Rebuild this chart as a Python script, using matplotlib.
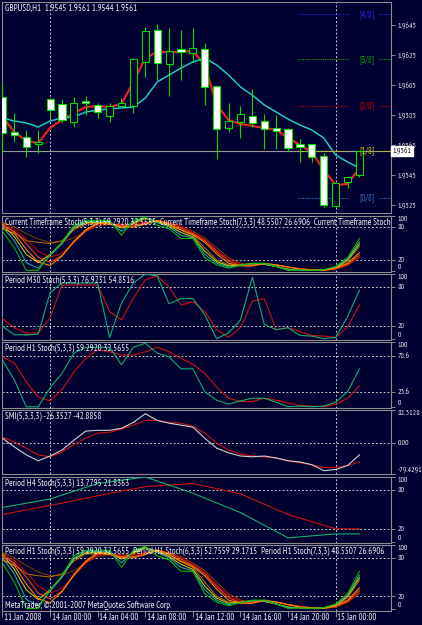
import matplotlib
matplotlib.use('Agg')
import matplotlib.pyplot as plt
from matplotlib.patches import Rectangle
from matplotlib import font_manager
from matplotlib.transforms import blended_transform_factory

W, H = 422, 625
BG = '#000030'
BORDER = '#8c8c8c'
TXT = '#f0f0f0'
GRID = '#c8c8c8'
WICK = '#00e000'

# ---- pick a narrow font (MetaTrader uses a narrow UI font) ----
sys_fonts = font_manager.findSystemFonts()
def _plain(p):
    q = p.lower()
    return not any(k in q for k in ('bold', 'italic', 'oblique', 'light', 'mono'))
narrow = [p for p in sys_fonts if 'narrow' in p.lower() and _plain(p)]
FS, FSN = 5.3, 4.7
if narrow:
    font_manager.fontManager.addfont(narrow[0])
    plt.rcParams['font.family'] = [font_manager.FontProperties(fname=narrow[0]).get_name(), 'DejaVu Sans']
    FS, FSN = 6.4, 5.6
else:
    plt.rcParams['font.family'] = ['DejaVu Sans']

# ---------------- data ----------------
bars = list(range(31))
opens = [1.95968, 1.95735, 1.95706, 1.95655, 1.95955, 1.95923, 1.95805, 1.95945, 1.95917, 1.95845,
         1.95912, 1.95912, 1.96205, 1.96417, 1.96188, 1.96288, 1.96261, 1.96288, 1.96045, 1.95765,
         1.95805, 1.95845, 1.95812, 1.95765, 1.95757, 1.95655, 1.95655, 1.95579, 1.95243, 1.95401, 1.95450]
highs = [1.96063, 1.95865, 1.95750, 1.95750, 1.95965, 1.95955, 1.95972, 1.95978, 1.95932, 1.95928,
         1.95962, 1.96232, 1.96439, 1.96457, 1.96430, 1.96417, 1.96428, 1.96328, 1.96045, 1.95928,
         1.95910, 1.96023, 1.95857, 1.95850, 1.95763, 1.95688, 1.95655, 1.95599, 1.95399, 1.95435, 1.95610]
lows = [1.95597, 1.95668, 1.95572, 1.95600, 1.95830, 1.95805, 1.95772, 1.95850, 1.95828, 1.95805,
        1.95910, 1.95862, 1.96105, 1.96083, 1.95977, 1.96083, 1.96205, 1.95917, 1.95557, 1.95738,
        1.95695, 1.95772, 1.95621, 1.95621, 1.95612, 1.95539, 1.95539, 1.95239, 1.95239, 1.95361, 1.95440]
closes = [1.95728, 1.95717, 1.95635, 1.95668, 1.95883, 1.95817, 1.95928, 1.95932, 1.95868, 1.95910,
          1.95928, 1.96221, 1.96410, 1.96199, 1.96277, 1.96268, 1.96299, 1.96035, 1.95757, 1.95812,
          1.95855, 1.95795, 1.95755, 1.95745, 1.95632, 1.95639, 1.95572, 1.95250, 1.95395, 1.95435, 1.95610]
ma_fast = [1.95837, 1.95737, 1.95677, 1.95663, 1.95763, 1.95817, 1.95863, 1.95903, 1.95910, 1.95903,
           1.95923, 1.96070, 1.96230, 1.96270, 1.96270, 1.96270, 1.96277, 1.96183, 1.95917, 1.95817,
           1.95790, 1.95777, 1.95763, 1.95750, 1.95697, 1.95650, 1.95603, 1.95483, 1.95383, 1.95390, 1.95497]
ma_slow = [1.95830, 1.95810, 1.95797, 1.95770, 1.95810, 1.95830, 1.95837, 1.95870, 1.95883, 1.95890,
           1.95897, 1.95903, 1.95963, 1.96070, 1.96117, 1.96163, 1.96203, 1.96230, 1.96183, 1.96117,
           1.96037, 1.95983, 1.95917, 1.95870, 1.95823, 1.95783, 1.95750, 1.95697, 1.95583, 1.95537, 1.95497]
price_ticks = [1.9645, 1.9625, 1.9605, 1.9585, 1.9565, 1.9545, 1.9525]
bid_price = 1.9561
murrey_levels = [1.9652, 1.9622, 1.9591, 1.9561, 1.9530]
murrey_labels = ['[4/8]', '[3/8]', '[2/8]', '[1/8]', '[0/8]']
murrey_colors = ['#2a2ae0', '#00a000', '#c00000', '#c8c800', '#2f72c0']

# multi-period H1 stochastics (used in "Current Timeframe" and "Period H1" windows)
s5_main = [72, 42, 1, 1, 30, 52, 83, 92, 92, 92, 65, 92, 98, 83, 77, 59, 59, 24, 11, 5, 10, 14, 14, 8, 1, 2, 1, 2, 8, 24, 59]
s5_sig = [77, 68, 39, 16, 10, 27, 54, 75, 88, 85, 80, 80, 85, 92, 85, 75, 66, 52, 31, 14, 9, 9, 14, 11, 7, 3, 2, 1, 5, 14, 33]
s6_main = [80, 55, 15, 5, 28, 50, 80, 90, 90, 90, 72, 90, 97, 88, 80, 65, 60, 30, 14, 7, 10, 13, 13, 8, 2, 2, 1, 2, 7, 22, 53]
s6_sig = [82, 72, 50, 25, 16, 28, 52, 73, 86, 86, 82, 82, 86, 92, 87, 78, 68, 55, 35, 18, 10, 10, 13, 11, 7, 4, 2, 1, 4, 12, 29]
s7_main = [85, 62, 30, 15, 30, 50, 78, 88, 88, 88, 78, 88, 96, 90, 82, 70, 62, 36, 17, 9, 11, 13, 12, 8, 3, 2, 1, 2, 6, 20, 49]
s7_sig = [85, 76, 58, 36, 25, 32, 52, 72, 84, 86, 84, 84, 88, 92, 88, 80, 70, 57, 38, 21, 12, 10, 12, 11, 7, 4, 2, 1, 4, 11, 27]
s8_main = [88, 70, 55, 52, 50, 55, 75, 86, 86, 86, 82, 86, 95, 91, 84, 74, 65, 42, 20, 11, 11, 13, 12, 8, 3, 2, 1, 2, 5, 18, 45]
s8_sig = [88, 80, 68, 58, 52, 53, 60, 72, 82, 85, 85, 85, 88, 91, 88, 82, 72, 60, 42, 24, 14, 11, 12, 11, 7, 4, 2, 1, 3, 10, 25]
multi_series = [s8_sig, s8_main, s7_sig, s7_main, s6_sig, s6_main, s5_sig, s5_main]
multi_colors = ['#7a3a00', '#b07000', '#c00000', '#d8d000', '#ff4010', '#20b0a0', '#ff9000', '#00c000']

m30_main = [19, 6, 6, 7, 71, 86, 86, 86, 86, 2, 55, 86, 100, 97, 54, 62, 62, 37, 0, 9, 29, 95, 22, 14, 17, 5, 4, 0, 2, 34, 75]
m30_sig = [31, 17, 9, 9, 32, 83, 83, 83, 83, 42, 29, 63, 91, 97, 80, 52, 57, 42, 14, 2, 17, 58, 62, 14, 17, 11, 5, 4, 2, 18, 52]

h1_main = s5_main
h1_sig = s5_sig

smi_main = [11, -11, -31, -46, -34, -19, 6, 29, 31, 31, 36, 51, 73, 56, 49, 44, 39, 11, -14, -26, -34, -36, -34, -39, -46, -49, -56, -71, -68, -58, -31]
smi_sig = [14, 1, -14, -31, -36, -24, -6, 11, 24, 26, 34, 44, 56, 56, 51, 49, 41, 24, -1, -19, -29, -34, -36, -39, -46, -51, -56, -63, -63, -58, -49]

h4_bars = [0, 4, 8, 12, 16, 20, 24, 28, 30]
h4_main = [53, 66, 90, 100, 75, 45, 6, 12, 12]
h4_sig = [42, 56, 71, 85, 90, 74, 42, 20, 20]

day_sep_bars = [4, 28]
xtick_bars = [0, 4, 8, 12, 16, 20, 24, 28]
xtick_labels = ['11 Jan 2008', '14 Jan 00:00', '14 Jan 04:00', '14 Jan 08:00',
                '14 Jan 12:00', '14 Jan 16:00', '14 Jan 20:00', '15 Jan 00:00']

XMIN, XMAX = -0.04, 32.65

fig = plt.figure(figsize=(W / 100, H / 100), dpi=100, facecolor=BG)


def make_ax(y0, y1, x0=2, x1=391):
    ax = fig.add_axes([x0 / W, 1 - y1 / H, (x1 - x0) / W, (y1 - y0) / H])
    ax.set_facecolor(BG)
    for s in ax.spines.values():
        s.set_color(BORDER)
        s.set_linewidth(0.8)
    ax.set_xlim(XMIN, XMAX)
    ax.tick_params(axis='x', bottom=False, labelbottom=False)
    ax.yaxis.tick_right()
    ax.tick_params(axis='y', colors=BORDER, labelcolor=TXT, length=3, width=0.7, pad=1.5, labelsize=FSN)
    for b in day_sep_bars:
        ax.axvline(b, color=GRID, lw=0.7, ls=(0, (2, 2)), zorder=1)
    return ax


def set_levels(ax, ticks, labels, dotted):
    ax.set_yticks(ticks)
    ax.set_yticklabels(labels)
    for lev in dotted:
        ax.axhline(lev, color=GRID, lw=0.7, ls=(0, (2, 2)), zorder=1)
    lbls = ax.get_yticklabels()
    top_i = max(range(len(ticks)), key=lambda k: ticks[k])
    bot_i = min(range(len(ticks)), key=lambda k: ticks[k])
    lbls[top_i].set_va('top')
    lbls[bot_i].set_va('bottom')


def panel_title(ax, text, height_px):
    ax.text(3 / 389, 1 - 6.5 / height_px, text, transform=ax.transAxes, color=TXT,
            fontsize=FS, va='center', ha='left', clip_on=True, zorder=10)


# ---------------- main chart ----------------
ax = make_ax(2, 213)
ax.set_ylim(1.951967, 1.966033)
ax.plot(bars, ma_fast, color='#e82020', lw=1.6, zorder=2)
ax.plot(bars, ma_slow, color='#20c8c8', lw=1.1, zorder=2)
for b, o, h, l, c in zip(bars, opens, highs, lows, closes):
    ax.vlines(b, l, h, color=WICK, lw=0.8, zorder=3)
    fc = '#ffffff' if c < o else BG
    ax.add_patch(Rectangle((b - 0.3, min(o, c)), 0.6, max(abs(c - o), 0.00002),
                           facecolor=fc, edgecolor=WICK, lw=0.8, zorder=4))
ax.axhline(bid_price, color='#9a9a9a', lw=0.8, zorder=2)
for lev, lab, col in zip(murrey_levels, murrey_labels, murrey_colors):
    ax.hlines(lev, 24.8, 29.1, color=col, lw=0.8, ls=(0, (1, 1)), zorder=2)
    ax.hlines(lev, 31.6, XMAX, color=col, lw=0.8, ls=(0, (1, 1)), zorder=2)
    ax.text(30.0, lev, lab, color=col, fontsize=FS, va='center', ha='left', zorder=5)
ax.set_yticks(price_ticks)
ax.set_yticklabels([f'{p:.4f}' for p in price_ticks])
ax.text(1.004, bid_price, f'{bid_price:.4f}', transform=blended_transform_factory(ax.transAxes, ax.transData),
        fontsize=FSN, color='#000000', va='center', ha='left', clip_on=False, zorder=12,
        bbox=dict(boxstyle='square,pad=0.15', facecolor='#ffffff', edgecolor='#ffffff'))
fig.text(5 / W, 1 - 8 / H, 'GBPUSD,H1  1.9545 1.9561 1.9544 1.9561', color=TXT, fontsize=FS,
         va='center', ha='left')

# ---------------- current timeframe stoch ----------------
STOCH_LIM = (-2, 100)
ax2 = make_ax(216, 272)
ax2.set_ylim(*STOCH_LIM)
for s, col in zip(multi_series, multi_colors):
    ax2.plot(bars, s, color=col, lw=0.75, zorder=3)
set_levels(ax2, [0, 20, 80, 100], ['0', '20', '80', '100'], [20, 80])
panel_title(ax2, 'Current Timeframe Stoch(5,3,3) 59.2920 32.5655  Current Timeframe Stoch(7,3,3) 48.5507 26.6906  '
                 'Current Timeframe Stoch(6,3,3) 52.7559 29.1715', 56)

# ---------------- M30 stoch ----------------
ax3 = make_ax(274, 340)
ax3.set_ylim(*STOCH_LIM)
ax3.plot(bars, m30_sig, color='#d01010', lw=0.8, zorder=3)
ax3.plot(bars, m30_main, color='#10b070', lw=0.8, zorder=3)
set_levels(ax3, [0, 20, 80, 100], ['0', '20', '80', '100'], [20, 80])
panel_title(ax3, 'Period M30 Stoch(5,3,3) 76.9231 54.8516', 66)

# ---------------- H1 stoch ----------------
ax4 = make_ax(342, 408)
ax4.set_ylim(-0.9, 100)
ax4.plot(bars, h1_sig, color='#d01010', lw=0.8, zorder=3)
ax4.plot(bars, h1_main, color='#10b070', lw=0.8, zorder=3)
set_levels(ax4, [0, 23.6, 78.6, 100], ['0', '23.6', '78.6', '100'], [23.6, 78.6])
panel_title(ax4, 'Period H1 Stoch(5,3,3) 59.2920 32.5655', 66)

# ---------------- SMI ----------------
ax5 = make_ax(410, 474)
ax5.set_ylim(-79.4291, 82.3128)
ax5.plot(bars, smi_sig, color='#d01010', lw=0.8, zorder=3)
ax5.plot(bars, smi_main, color='#d0d0d0', lw=0.8, zorder=3)
set_levels(ax5, [-79.4291, 0, 82.3128], ['-79.4291', '0.00', '82.3128'], [0])
panel_title(ax5, 'SMI(5,3,3,3) -26.3527 -42.8858', 64)

# ---------------- H4 stoch ----------------
ax6 = make_ax(477, 543)
ax6.set_ylim(*STOCH_LIM)
ax6.plot(h4_bars, h4_sig, color='#d01010', lw=0.8, zorder=3)
ax6.plot(h4_bars, h4_main, color='#10b070', lw=0.8, zorder=3)
set_levels(ax6, [0, 20, 80, 100], ['0', '20', '80', '100'], [20, 80])
panel_title(ax6, 'Period H4 Stoch(5,3,3) 13.7795 21.8363', 66)

# ---------------- H1 multi stoch ----------------
ax7 = make_ax(545, 611)
ax7.set_ylim(-3, 100)
for s, col in zip(multi_series, multi_colors):
    ax7.plot(bars, s, color=col, lw=0.75, zorder=3)
set_levels(ax7, [0, 20, 80, 100], ['0', '20', '80', '100'], [20, 80])
panel_title(ax7, 'Period H1 Stoch(5,3,3) 59.2920 32.5655  Period H1 Stoch(6,3,3) 52.7559 29.1715  '
                 'Period H1 Stoch(7,3,3) 48.5507 26.6906', 66)
ax7.text(3 / 389, 5 / 66, 'MetaTrader, \u00a9 2001-2007 MetaQuotes Software Corp.', transform=ax7.transAxes,
         color=TXT, fontsize=FS, va='center', ha='left', zorder=10)
ax7.set_xticks(xtick_bars)
ax7.tick_params(axis='x', bottom=True, colors=BORDER, length=4, width=0.7, labelbottom=False)
tr = blended_transform_factory(ax7.transData, fig.transFigure)
for b, lab in zip(xtick_bars, xtick_labels):
    ax7.text(b + 0.15, 1 - 617 / H, lab, transform=tr, color=TXT, fontsize=FS, va='center', ha='left',
             clip_on=False)

fig.savefig('out.png', dpi=100, facecolor=BG)
